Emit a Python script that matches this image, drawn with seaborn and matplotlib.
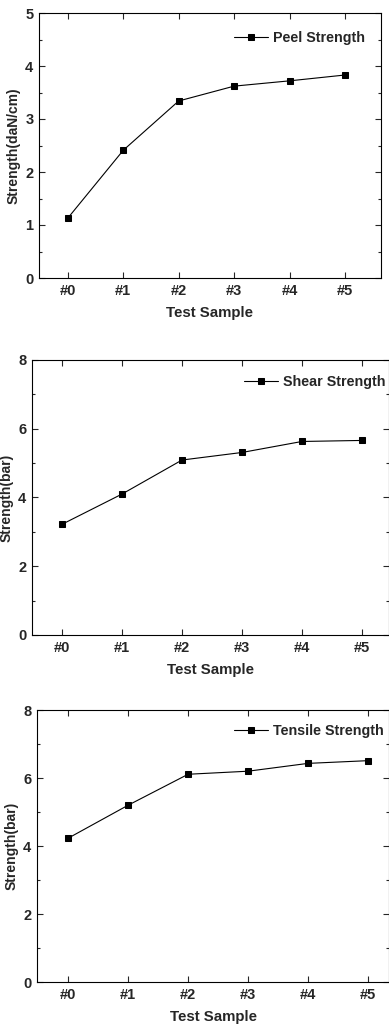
import matplotlib
matplotlib.use("Agg")
import matplotlib.pyplot as plt
import seaborn as sns
import pandas as pd
from matplotlib.ticker import MultipleLocator

# ---- Data ----
samples = ["#0", "#1", "#2", "#3", "#4", "#5"]
peel = [1.13, 2.41, 3.34, 3.62, 3.72, 3.83]
shear = [3.22, 4.10, 5.09, 5.31, 5.63, 5.66]
tensile = [4.23, 5.20, 6.11, 6.20, 6.43, 6.51]

sns.set_theme(style="ticks")
plt.rcParams["font.family"] = ["Liberation Sans", "DejaVu Sans"]
plt.rcParams["font.weight"] = "bold"

fig = plt.figure(figsize=(3.89, 10.27), dpi=100)
W, H = 389, 1027

# panel settings: (left, top, right, bottom) in px, series, label, ylabel, ymax, ystep, xlim, legend anchor, ylabel x
panels = [
    ((39, 13, 381, 278), peel, "Peel Strength", "Strength(daN/cm)", 5, 1, (-0.52, 5.65), (0.953, 0.906), -0.053),
    ((32, 360, 389, 635), shear, "Shear Strength", "Strength(bar)", 8, 2, (-0.5, 5.45), (0.99, 0.92), -0.053),
    ((37, 710, 389, 982), tensile, "Tensile Strength", "Strength(bar)", 8, 2, (-0.52, 5.35), (0.986, 0.923), -0.051),
]

for (l, t, r, b), vals, name, ylab, ymax, ystep, xlim, anchor, ylx in panels:
    ax = fig.add_axes([l / W, (H - b) / H, (r - l) / W, (b - t) / H])
    df = pd.DataFrame({"x": range(len(samples)), "y": vals})
    sns.lineplot(data=df, x="x", y="y", ax=ax, color="black", linewidth=0.8,
                 marker="s", markersize=4.8, markeredgecolor="black", label=name)
    ax.set_xlim(*xlim)
    ax.set_ylim(0, ymax)
    ax.set_xticks(range(len(samples)))
    ax.set_xticklabels(samples)
    ax.yaxis.set_major_locator(MultipleLocator(ystep))
    ax.yaxis.set_minor_locator(MultipleLocator(ystep / 2))
    ax.tick_params(axis="both", which="both", direction="in", top=True, right=True,
                   labelsize=10.5, width=0.8)
    ax.tick_params(axis="both", which="major", length=4, pad=4)
    ax.tick_params(axis="y", which="minor", length=2.5)
    for lab in ax.get_xticklabels() + ax.get_yticklabels():
        lab.set_fontweight("bold")
    for s in ax.spines.values():
        s.set_linewidth(0.8)
        s.set_color("black")
    ax.set_xlabel("Test Sample", fontsize=10.8, fontweight="bold", labelpad=6)
    ax.set_ylabel(ylab, fontsize=10, fontweight="bold")
    ax.yaxis.set_label_coords(ylx, 0.5)
    ax.legend(loc="center right", bbox_to_anchor=anchor, frameon=False,
              borderpad=0, borderaxespad=0, handlelength=2.4,
              handletextpad=0.35, prop={"size": 10.3, "weight": "bold"})

fig.savefig("out.png", dpi=100)
